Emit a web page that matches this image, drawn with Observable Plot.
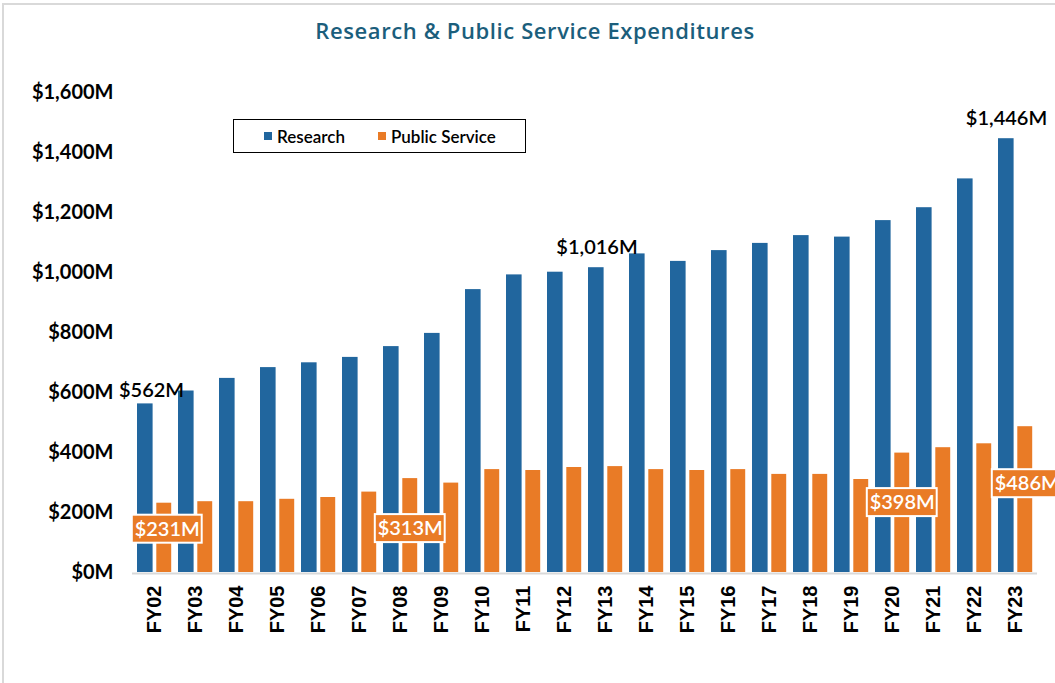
<!DOCTYPE html>
<html>
<head>
<meta charset="utf-8">
<script src="https://cdn.jsdelivr.net/npm/d3@7"></script>
<script src="https://cdn.jsdelivr.net/npm/@observablehq/plot@0.6"></script>
<style>
  html, body { margin: 0; padding: 0; background: #fff; overflow: hidden; }
  #wrap { position: relative; width: 1055px; height: 683px; overflow: hidden; background: #fff; }
  #frame { position: absolute; left: 2px; top: 3px; width: 1100px; height: 720px;
           border-left: 2px solid #d9d9d9; border-top: 2px solid #d9d9d9; }
  #title { position: absolute; left: 0; top: 15px; width: 1070px; text-align: center;
           font: 600 22px "Open Sans", sans-serif; letter-spacing: 0.6px; color: #1b5e7c; }
  #legend { position: absolute; left: 233px; top: 119px; width: 291px; height: 32px;
            border: 1.5px solid #000; background: #fff; font: 600 17px Lato, sans-serif; color: #000; }
  #legend .item { position: absolute; top: 0; height: 32px; display: flex; align-items: center; }
  #legend .sw { width: 8px; height: 8px; margin-right: 5px; }
  #chart { position: absolute; left: 0; top: 60px; }
  #chart svg g[aria-label="y-axis tick label"] text,
  #chart svg g[aria-label="y-axis"] text { font: bold 20px Lato, sans-serif; fill: #000; }
  #chart svg g[aria-label="x-axis tick label"] text,
  #chart svg g[aria-label="x-axis"] text { font: bold 20px "Liberation Sans", Arial, sans-serif; fill: #000; }
</style>
</head>
<body>
<div id="wrap">
  <div id="frame"></div>
  <div id="chart"></div>
  <div id="title">Research &amp; Public Service Expenditures</div>
  <div id="legend"></div>
</div>
<script>
// ---- data ----
const years = ["FY02","FY03","FY04","FY05","FY06","FY07","FY08","FY09","FY10","FY11","FY12",
               "FY13","FY14","FY15","FY16","FY17","FY18","FY19","FY20","FY21","FY22","FY23"];
const research = [562, 605, 647, 683, 699, 717, 753, 797, 943, 992, 1001,
                  1016, 1062, 1037, 1073, 1097, 1123, 1118, 1173, 1216, 1312, 1446];
const publicService = [231, 236, 236, 244, 250, 268, 313, 298, 343, 340, 350,
                       353, 343, 340, 343, 327, 327, 310, 398, 416, 429, 486];
const seriesNames = ["Research", "Public Service"];
const seriesColors = ["#21669e", "#e97b26"];
const yTicks = [0, 200, 400, 600, 800, 1000, 1200, 1400, 1600];
const researchLabelYears = ["FY02", "FY13", "FY23"];
const publicLabelYears = ["FY02", "FY08", "FY20", "FY23"];

// ---- derived tables ----
const fmt = v => `$${d3.format(",")(v)}M`;
const researchRows = years.map((y, i) => ({year: y, value: research[i]}));
const publicRows = years.map((y, i) => ({year: y, value: publicService[i]}));
const researchLabels = researchRows.filter(d => researchLabelYears.includes(d.year));
const publicLabels = publicRows.filter(d => publicLabelYears.includes(d.year));

// label nudges (pixels) relative to the bar top / band centre
const rNudge = {FY02: [-3.5, -13], FY13: [-9, -20], FY23: [-9.5, -20]};
const pNudge = {FY02: [3, 26], FY08: [0, 50], FY20: [0, 49.5], FY23: [2, 57]};

const marks = [
  Plot.ruleY([0], {stroke: "#d9d9d9", strokeWidth: 2, dy: 1}),
  Plot.barY(researchRows, {x: "year", y: "value", fill: seriesColors[0], insetLeft: 3, insetRight: 22.4}),
  Plot.barY(publicRows, {x: "year", y: "value", fill: seriesColors[1], insetLeft: 22.3, insetRight: 3.8})
];
for (const d of researchLabels) {
  const [dx, dy] = rNudge[d.year];
  marks.push(Plot.text([d], {x: "year", y: "value", text: d => fmt(d.value), dx, dy,
    fill: "#000", fontSize: 20, fontWeight: 600, fontFamily: "Lato, sans-serif"}));
}
for (const d of publicLabels) {
  const [dx, dy] = pNudge[d.year];
  marks.push(Plot.barY([d], {x: "year", y1: "value", y2: "value",
    insetLeft: -5.2 + dx, insetRight: -23.7 - dx, insetTop: -14, insetBottom: -14, dy,
    fill: seriesColors[1], stroke: "#fff", strokeWidth: 2}));
  marks.push(Plot.text([d], {x: "year", y: "value", text: d => fmt(d.value), dx: 9.2 + dx, dy,
    fill: "#fff", fontSize: 20, fontWeight: 600, fontFamily: "Lato, sans-serif"}));
}

const chart = Plot.plot({
  width: 1055,
  height: 623,
  marginTop: 32,
  marginBottom: 111,
  marginLeft: 132,
  marginRight: 18,
  style: {background: "transparent", overflow: "visible"},
  x: {type: "band", domain: years, padding: 0, label: null, tickSize: 0, tickPadding: 13, tickRotate: -90},
  y: {domain: [0, 1600], ticks: yTicks, tickFormat: fmt, tickSize: 0, tickPadding: 19, label: null},
  marks
});
document.getElementById("chart").appendChild(chart);

// legend
const legend = document.getElementById("legend");
const legendX = [30, 144];
seriesNames.forEach((name, i) => {
  const item = document.createElement("div");
  item.className = "item";
  item.style.left = legendX[i] + "px";
  const sw = document.createElement("span");
  sw.className = "sw";
  sw.style.background = seriesColors[i];
  const t = document.createElement("span");
  t.textContent = name;
  item.appendChild(sw);
  item.appendChild(t);
  legend.appendChild(item);
});
</script>
</body>
</html>
